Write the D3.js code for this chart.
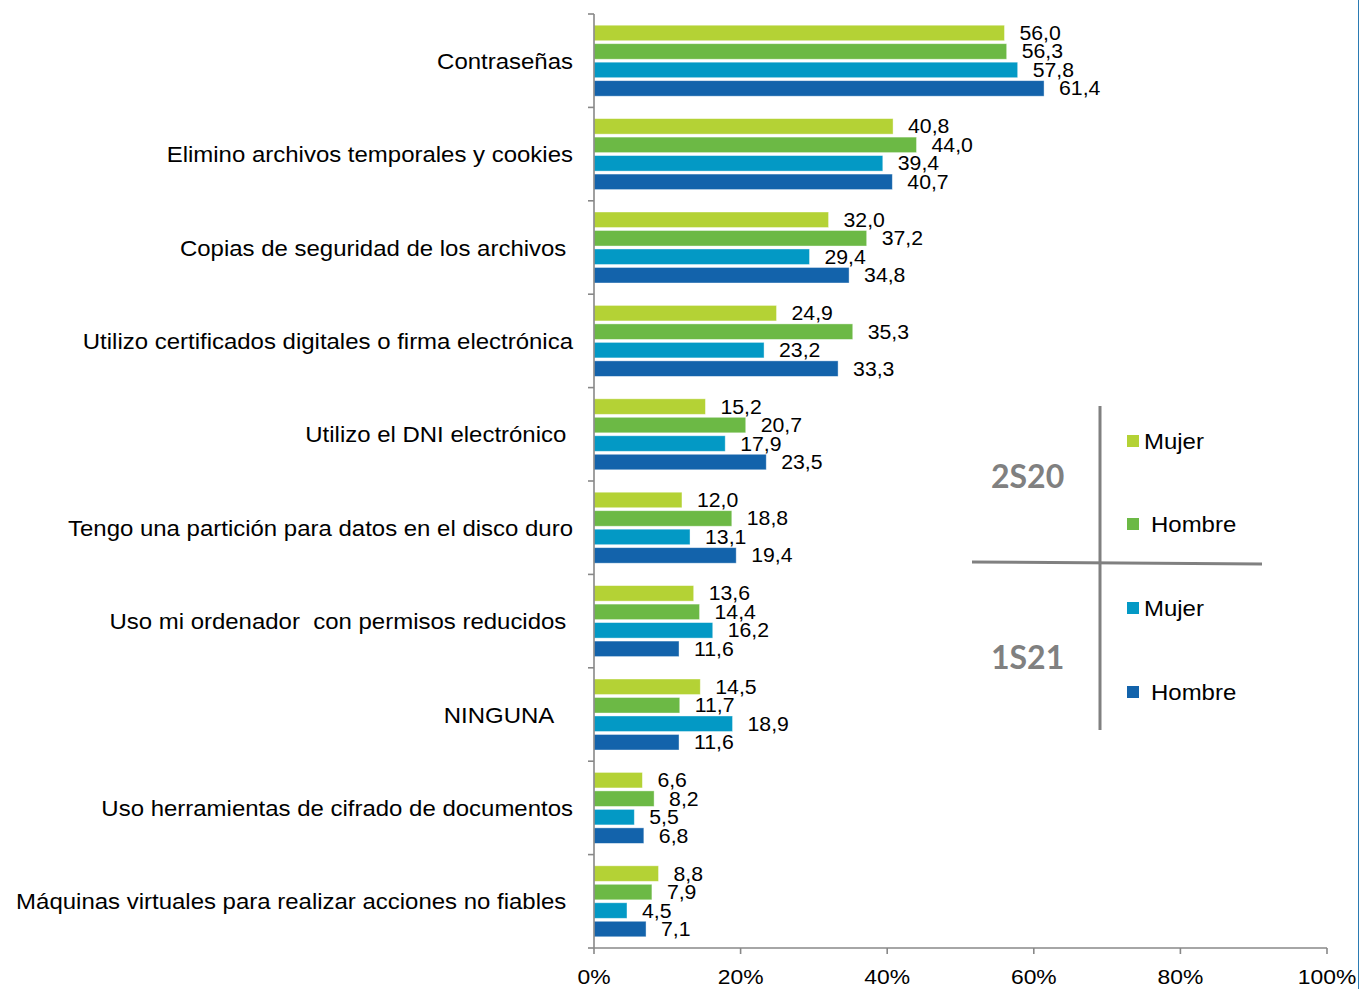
<!DOCTYPE html>
<html><head><meta charset="utf-8">
<script src="https://cdn.jsdelivr.net/npm/d3@7"></script>
<style>
html,body{margin:0;padding:0;background:#fff;}
svg{display:block;}
text{font-family:"Liberation Sans",Arial,sans-serif;white-space:pre;}
</style></head>
<body>
<svg id="chart" width="1360" height="989"></svg>
<script>
const categories = [
  "Contraseñas",
  "Elimino archivos temporales y cookies",
  "Copias de seguridad de los archivos ",
  "Utilizo certificados digitales o firma electrónica",
  "Utilizo el DNI electrónico ",
  "Tengo una partición para datos en el disco duro",
  "Uso mi ordenador  con permisos reducidos ",
  "NINGUNA   ",
  "Uso herramientas de cifrado de documentos",
  "Máquinas virtuales para realizar acciones no fiables "
];
const seriesKeys = ["m20", "h20", "m21", "h21"];
const mujer2S20  = [56.0, 40.8, 32.0, 24.9, 15.2, 12.0, 13.6, 14.5, 6.6, 8.8];
const hombre2S20 = [56.3, 44.0, 37.2, 35.3, 20.7, 18.8, 14.4, 11.7, 8.2, 7.9];
const mujer1S21  = [57.8, 39.4, 29.4, 23.2, 17.9, 13.1, 16.2, 18.9, 5.5, 4.5];
const hombre1S21 = [61.4, 40.7, 34.8, 33.3, 23.5, 19.4, 11.6, 11.6, 6.8, 7.1];
const xTicks = [0, 20, 40, 60, 80, 100];
const periodLabels = ["2S20", "1S21"];
const legendLabels = ["Mujer", "Hombre", "Mujer", "Hombre"];

const colors = {m20:"#b4d235", h20:"#6cb945", m21:"#0399c5", h21:"#1363ab"};
const valuesBySeries = {m20:mujer2S20, h20:hombre2S20, m21:mujer1S21, h21:hombre1S21};

const svg = d3.select("#chart");
const SX = 1.09; // horizontal text stretch
const axisColor = "#888888";

const x = d3.scaleLinear().domain([0, 100]).range([594, 1327]);
const y = d3.scaleBand().domain(categories).range([14, 948]).paddingInner(0.24).paddingOuter(0.12);
const yInner = d3.scaleBand().domain(seriesKeys).range([0, y.bandwidth()]).paddingInner(0.16);

function stretchedText(g, tx, ty, str, anchor, size, fill) {
  return g.append("text")
    .attr("transform", `translate(${tx},${ty}) scale(${SX},1)`)
    .attr("text-anchor", anchor)
    .attr("font-size", size)
    .attr("fill", fill || "#000")
    .text(str);
}

// bars
const gBars = svg.append("g");
categories.forEach((c, i) => {
  seriesKeys.forEach(k => {
    const v = valuesBySeries[k][i];
    const yy = y(c) + yInner(k);
    gBars.append("rect")
      .attr("x", x(0))
      .attr("y", yy)
      .attr("width", x(v) - x(0))
      .attr("height", yInner.bandwidth())
      .attr("fill", colors[k])
      .attr("stroke", "#ffffff")
      .attr("stroke-opacity", 0.5)
      .attr("stroke-width", 0.8);
  });
});

// value labels
const gLab = svg.append("g");
categories.forEach((c, i) => {
  seriesKeys.forEach(k => {
    const v = valuesBySeries[k][i];
    const cy = y(c) + yInner(k) + yInner.bandwidth() / 2;
    stretchedText(gLab, x(v) + 15, cy + 7, d3.format(".1f")(v).replace(".", ","), "start", 19.5, "#000");
  });
});

// category labels
const gCat = svg.append("g");
categories.forEach(c => {
  const cy = y(c) + y.bandwidth() / 2;
  stretchedText(gCat, 573, cy + 8, c, "end", 22, "#000");
});

// y axis
const gy = svg.append("g").attr("stroke", axisColor).attr("stroke-width", 1.6);
gy.append("line").attr("x1", x(0)).attr("x2", x(0)).attr("y1", y.range()[0]).attr("y2", y.range()[1]);
for (let i = 0; i <= categories.length; i++) {
  const ty = y.range()[0] + i * y.step();
  gy.append("line").attr("x1", x(0) - 6).attr("x2", x(0)).attr("y1", ty).attr("y2", ty);
}

// x axis
const gx = svg.append("g");
gx.append("line").attr("x1", x(0)).attr("x2", x(100)).attr("y1", 948).attr("y2", 948)
  .attr("stroke", axisColor).attr("stroke-width", 1.6);
xTicks.forEach(t => {
  gx.append("line").attr("x1", x(t)).attr("x2", x(t)).attr("y1", 948).attr("y2", 954)
    .attr("stroke", axisColor).attr("stroke-width", 1.6);
  stretchedText(gx, x(t), 984, t + "%", "middle", 21, "#000");
});

// legend
const gL = svg.append("g");
gL.append("line").attr("x1", 1100).attr("x2", 1100).attr("y1", 406).attr("y2", 730)
  .attr("stroke", "#808080").attr("stroke-width", 3);
gL.append("line").attr("x1", 972).attr("x2", 1262).attr("y1", 562).attr("y2", 564)
  .attr("stroke", "#808080").attr("stroke-width", 3);
periodLabels.forEach((p, i) => {
  gL.append("text").attr("x", 991).attr("y", i === 0 ? 488 : 669).attr("font-size", 32).attr("font-weight", "bold")
    .attr("fill", "#808080").style("font-family", "Lato, 'Open Sans', sans-serif").text(p);
});
const legY = [441, 524, 608, 692];
const legTextX = [1144, 1151, 1144, 1151];
seriesKeys.forEach((k, i) => {
  gL.append("rect").attr("x", 1127).attr("y", legY[i] - 6).attr("width", 12).attr("height", 12)
    .attr("fill", colors[k]);
  stretchedText(gL, legTextX[i], legY[i] + 8, legendLabels[i], "start", 22, "#000");
});

// right edge line
svg.append("line").attr("x1", 1358.5).attr("x2", 1358.5).attr("y1", 0).attr("y2", 989)
  .attr("stroke", "#2b7bb3").attr("stroke-width", 1);
</script>
</body></html>
